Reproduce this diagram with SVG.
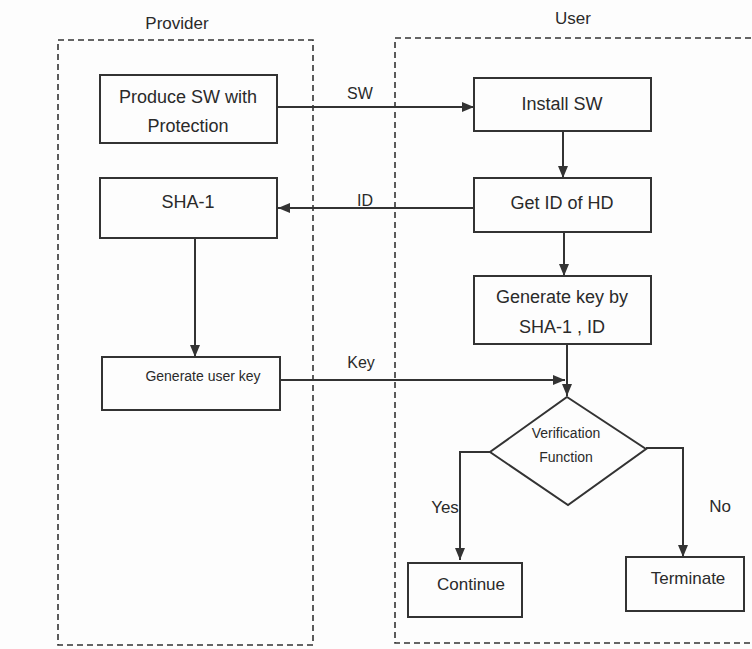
<svg xmlns="http://www.w3.org/2000/svg" width="752" height="649" viewBox="0 0 752 649">
<style>
text{font-family:"Liberation Sans",Arial,sans-serif;fill:#2a2a2a;text-anchor:middle}
.box{fill:none;stroke:#333;stroke-width:2}
.lane{fill:none;stroke:#333;stroke-width:1.6;stroke-dasharray:6 4}
.conn{fill:none;stroke:#333;stroke-width:2}
.m{font-size:18px}
.s{font-size:14px}
.t{font-size:17px}
.l{font-size:16px}
</style>
<defs>
<marker id="ah" viewBox="0 0 12 10" refX="12" refY="5" markerWidth="12" markerHeight="10" markerUnits="userSpaceOnUse" orient="auto">
<path d="M0,0 L12,5 L0,10 Z" fill="#333"/>
</marker>
</defs>
<rect width="752" height="649" fill="#fdfdfd"/>
<g id="lanes">
<rect class="lane" x="58" y="40" width="255" height="605"/>
<rect class="lane" x="395" y="38" width="380" height="605"/>
<text class="t" x="177" y="29">Provider</text>
<text class="t" x="573" y="24">User</text>
</g>
<g id="connectors">
<line class="conn" x1="278" y1="107" x2="474" y2="107" marker-end="url(#ah)"/>
<text class="l" x="360" y="99">SW</text>
<line class="conn" x1="474" y1="208" x2="278" y2="208" marker-end="url(#ah)"/>
<text class="l" x="365" y="206">ID</text>
<line class="conn" x1="563" y1="131" x2="563" y2="178" marker-end="url(#ah)"/>
<line class="conn" x1="564" y1="232" x2="564" y2="276" marker-end="url(#ah)"/>
<line class="conn" x1="195" y1="238" x2="195" y2="357" marker-end="url(#ah)"/>
<line class="conn" x1="280" y1="380" x2="565" y2="380" marker-end="url(#ah)"/>
<text class="l" x="361" y="368">Key</text>
<line class="conn" x1="567" y1="344" x2="567" y2="396" marker-end="url(#ah)"/>
<polyline class="conn" points="490,452 460,452 460,560" marker-end="url(#ah)"/>
<text class="t" x="445" y="513">Yes</text>
<polyline class="conn" points="646,448 683,448 683,557" marker-end="url(#ah)"/>
<text class="t" x="720" y="512">No</text>
</g>
<g id="produce">
<rect class="box" x="100" y="75" width="177" height="68"/>
<text class="m" x="188" y="103">Produce SW with</text>
<text class="m" x="188" y="132">Protection</text>
</g>
<g id="install">
<rect class="box" x="474" y="78" width="177" height="53"/>
<text class="m" x="562" y="110">Install SW</text>
</g>
<g id="sha1">
<rect class="box" x="100" y="178" width="177" height="60"/>
<text class="m" x="188" y="208">SHA-1</text>
</g>
<g id="getid">
<rect class="box" x="474" y="178" width="177" height="54"/>
<text class="m" x="562" y="209">Get ID of HD</text>
</g>
<g id="genkey">
<rect class="box" x="474" y="276" width="177" height="68"/>
<text class="m" x="562" y="303">Generate key by</text>
<text class="m" x="562" y="333">SHA-1 , ID</text>
</g>
<g id="genuserkey">
<rect class="box" x="102" y="357" width="178" height="53"/>
<text class="s" x="203" y="381">Generate user key</text>
</g>
<g id="verify">
<polygon class="box" points="567,397 646,449 568,505 490,452"/>
<text class="s" x="566" y="438">Verification</text>
<text class="s" x="566" y="462">Function</text>
</g>
<g id="continue">
<rect class="box" x="408" y="563" width="114" height="54"/>
<text class="t" x="471" y="590">Continue</text>
</g>
<g id="terminate">
<rect class="box" x="626" y="557" width="118" height="54"/>
<text class="t" x="688" y="584">Terminate</text>
</g>
</svg>
